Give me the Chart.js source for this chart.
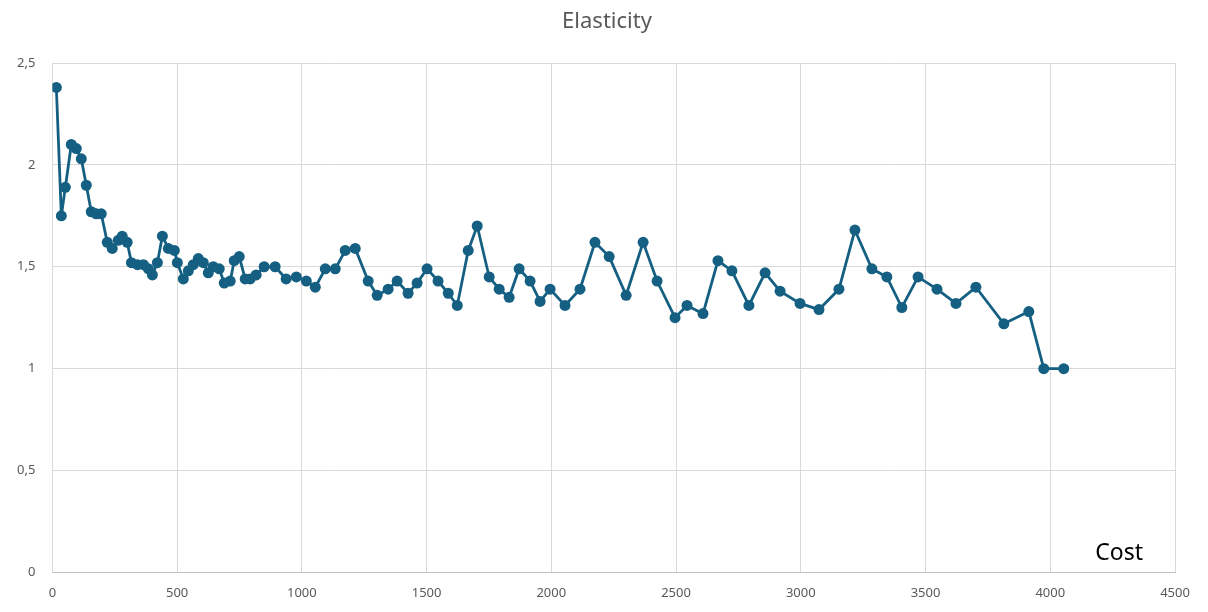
<!DOCTYPE html>
<html>
<head>
<meta charset="utf-8">
<script src="https://cdn.jsdelivr.net/npm/chart.js@4"></script>
<style>
    body { margin: 0; background: white; }
</style>
</head>
<body>
<canvas id="myChart" width="1208" height="612"></canvas>
<script>
const costos = [16, 36, 52, 76, 96, 116, 136, 156, 176, 196,
    220, 240, 264, 280, 300, 317, 341, 365, 385, 401,
    421, 441, 465, 489, 501, 525, 545, 565, 585, 605,
    625, 645, 669, 689, 713, 729, 749, 773, 793, 817,
    849, 893, 937, 978, 1018, 1054, 1094, 1134, 1174, 1214,
    1266, 1302, 1346, 1382, 1426, 1462, 1502, 1546, 1587, 1623,
    1667, 1703, 1751, 1791, 1831, 1871, 1915, 1955, 1995, 2055,
    2115, 2175, 2232, 2300, 2368, 2424, 2496, 2544, 2608, 2668,
    2724, 2792, 2857, 2917, 2997, 3073, 3153, 3217, 3285, 3345,
    3405, 3470, 3546, 3622, 3702, 3814, 3914, 3974, 4054]
const elasticidad = [2.38, 1.75, 1.89, 2.10, 2.08, 2.03, 1.90, 1.77, 1.76, 1.76,
    1.62, 1.59, 1.63, 1.65, 1.62, 1.52, 1.51, 1.51, 1.49, 1.46,
    1.52, 1.65, 1.59, 1.58, 1.52, 1.44, 1.48, 1.51, 1.54, 1.52,
    1.47, 1.50, 1.49, 1.42, 1.43, 1.53, 1.55, 1.44, 1.44, 1.46,
    1.50, 1.50, 1.44, 1.45, 1.43, 1.40, 1.49, 1.49, 1.58, 1.59,
    1.43, 1.36, 1.39, 1.43, 1.37, 1.42, 1.49, 1.43, 1.37, 1.31,
    1.58, 1.70, 1.45, 1.39, 1.35, 1.49, 1.43, 1.33, 1.39, 1.31,
    1.39, 1.62, 1.55, 1.36, 1.62, 1.43, 1.25, 1.31, 1.27, 1.53,
    1.48, 1.31, 1.47, 1.38, 1.32, 1.29, 1.39, 1.68, 1.49, 1.45,
    1.30, 1.45, 1.39, 1.32, 1.40, 1.22, 1.28, 1.00, 1.00]
const ticksX = [0, 500, 1000, 1500, 2000, 2500, 3000, 3500, 4000, 4500]
const ticksY = [0, 0.5, 1, 1.5, 2, 2.5]

const color = "rgb(21,96,130)"
const puntos = costos.map((c, i) => ({ x: c, y: elasticidad[i] }))

// titulo centrado en el lienzo y etiqueta "Cost" dentro del area del grafico
const textos = {
    id: "textos",
    afterDraw(chart) {
        const ctx = chart.ctx
        const area = chart.chartArea
        ctx.save()
        ctx.font = "22px 'Noto Sans', sans-serif"
        ctx.fillStyle = "#595959"
        ctx.textAlign = "center"
        ctx.textBaseline = "middle"
        ctx.fillText("Elasticity", chart.width / 2 + 3, 22)

        ctx.font = "23px 'Noto Sans', sans-serif"
        ctx.fillStyle = "black"
        ctx.textAlign = "right"
        ctx.textBaseline = "alphabetic"
        ctx.fillText("Cost", area.right - 32, area.bottom - 12)
        ctx.restore()
    }
}

const grafica = new Chart(document.querySelector("#myChart"), {
    type: "scatter",
    data: {
        datasets: [{
            data: puntos,
            showLine: true,
            borderColor: color,
            backgroundColor: color,
            borderWidth: 2.8,
            pointRadius: 5.5,
            pointHoverRadius: 5.5,
            pointBorderWidth: 0,
            tension: 0
        }]
    },
    options: {
        responsive: false,
        animation: false,
        layout: { padding: { left: 0, right: 33, top: 63, bottom: -2 } },
        plugins: {
            legend: { display: false },
            tooltip: { enabled: false },
            title: { display: false }
        },
        scales: {
            x: {
                type: "linear",
                min: ticksX[0],
                max: ticksX[ticksX.length - 1],
                afterBuildTicks: axis => { axis.ticks = ticksX.map(v => ({ value: v })) },
                grid: { color: "#d9d9d9", drawTicks: false },
                border: { color: "#bfbfbf" },
                ticks: {
                    color: "#595959",
                    font: { family: "'Noto Sans', sans-serif", size: 13 },
                    padding: 13,
                    maxRotation: 0,
                    callback: v => String(v)
                }
            },
            y: {
                min: ticksY[0],
                max: ticksY[ticksY.length - 1],
                afterBuildTicks: axis => { axis.ticks = ticksY.map(v => ({ value: v })) },
                grid: { color: "#d9d9d9", drawTicks: false },
                border: { color: "#d9d9d9" },
                ticks: {
                    color: "#595959",
                    font: { family: "'Noto Sans', sans-serif", size: 13 },
                    padding: 17,
                    callback: v => String(v).replace(".", ",")
                }
            }
        }
    },
    plugins: [textos]
})
</script>
</body>
</html>
